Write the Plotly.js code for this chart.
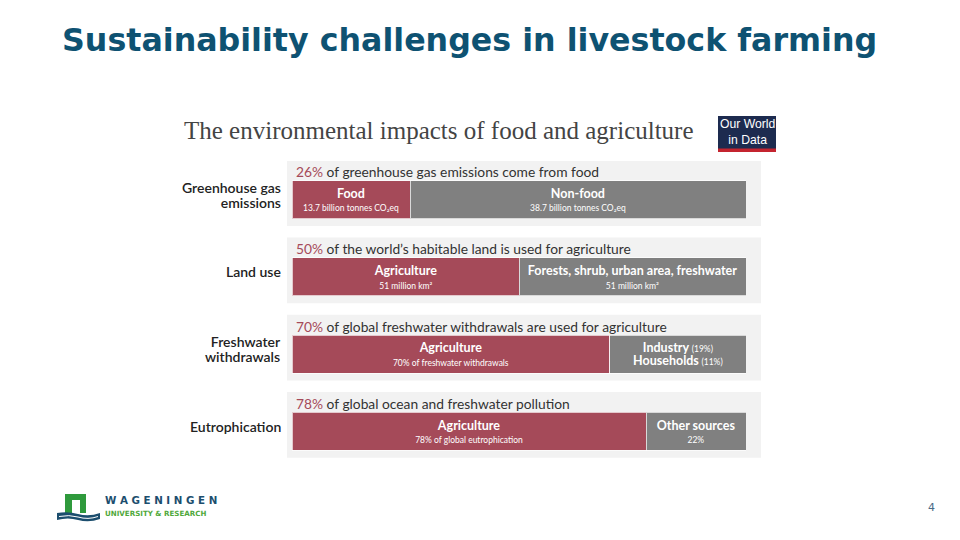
<!DOCTYPE html>
<html>
<head>
<meta charset="utf-8">
<script src="https://cdn.plot.ly/plotly-3.0.1.min.js"></script>
<style>html,body{margin:0;padding:0;background:#fff;}#chart{width:960px;height:540px;}</style>
</head>
<body>
<div id="chart"></div>
<script>
// ---- data ----
const categories = ["Greenhouse gas<br>emissions", "Land use", "Freshwater<br>withdrawals", "Eutrophication"];
const agriShare = [26, 50, 70, 78];
const otherShare = [74, 50, 30, 22];
const agriLabels = ["Food", "Agriculture", "Agriculture", "Agriculture"];
const agriDetails = ["13.7 billion tonnes CO₂eq", "51 million km²", "70% of freshwater withdrawals", "78% of global eutrophication"];
const otherLabels = ["Non-food", "Forests, shrub, urban area, freshwater", "Industry", "Other sources"];
const otherDetails = ["38.7 billion tonnes CO₂eq", "51 million km²", "(19%)", "22%"];
const otherLabels2 = ["", "", "Households", ""];
const otherDetails2 = ["", "", "(11%)", ""];
const headlinePct = ["26%", "50%", "70%", "78%"];
const headlineText = [" of greenhouse gas emissions come from food", " of the world’s habitable land is used for agriculture", " of global freshwater withdrawals are used for agriculture", " of global ocean and freshwater pollution"];

// ---- styles ----
const RED = "#a54a59";
const GRAY = "#808080";
const PANEL = "#f2f2f2";
const L = 292, R = 214, T = 161, B = 70;
const W = 960 - L - R, H = 540 - T - B;
const px2x = p => (p - L) / W;
const py2y = p => (540 - B - p) / H;
const FONT = "Lato, 'Open Sans', sans-serif";

const yIdx = categories.map((c, i) => i);

function agriText(i) {
  return "<span style='font-size:12.5px;font-weight:bold'>" + agriLabels[i] + "</span><br><span style='font-size:8.5px'>" + agriDetails[i] + "</span>";
}
function otherText(i) {
  if (otherLabels2[i]) {
    return "<span style='font-size:12.5px;font-weight:bold'>" + otherLabels[i] + "</span> <span style='font-size:8.5px'>" + otherDetails[i] + "</span><br>" +
           "<span style='font-size:12.5px;font-weight:bold'>" + otherLabels2[i] + "</span> <span style='font-size:8.5px'>" + otherDetails2[i] + "</span>";
  }
  return "<span style='font-size:12.5px;font-weight:bold'>" + otherLabels[i] + "</span><br><span style='font-size:8.5px'>" + otherDetails[i] + "</span>";
}

const traces = [
  {
    type: "bar", orientation: "h", y: yIdx, x: agriShare, width: 0.49,
    marker: {color: RED, line: {color: "rgba(255,255,255,0.7)", width: 1}},
    text: yIdx.map(agriText), textposition: "inside", insidetextanchor: "middle",
    textangle: 0, constraintext: "none",
    textfont: {family: FONT, size: 10.3, color: "#ffffff"},
    hoverinfo: "none"
  },
  {
    type: "bar", orientation: "h", y: yIdx, x: otherShare, width: 0.49,
    marker: {color: GRAY, line: {color: "rgba(255,255,255,0.7)", width: 1}},
    text: yIdx.map(otherText), textposition: "inside", insidetextanchor: "middle",
    textangle: 0, constraintext: "none",
    textfont: {family: FONT, size: 10.3, color: "#ffffff"},
    hoverinfo: "none"
  }
];

const shapes = [];
const annotations = [];
yIdx.forEach(i => {
  shapes.push({type: "rect", layer: "below", xref: "paper", yref: "y",
    x0: px2x(287), x1: px2x(761), y0: i - 0.51, y1: i + 0.34,
    fillcolor: PANEL, line: {width: 0}});
  annotations.push({xref: "paper", yref: "y", x: px2x(294), y: i, yshift: 28,
    xanchor: "left", yanchor: "middle", showarrow: false,
    text: "<span style='color:" + RED + "'>" + headlinePct[i] + "</span>" + headlineText[i],
    font: {family: FONT, size: 13.8, color: "#333333"}});
  // row label
  annotations.push({xref: "paper", yref: "y", x: px2x(283), y: i, yshift: 5,
    xanchor: "right", yanchor: "middle", align: "right", showarrow: false,
    text: "<span style='font-size:14px'>" + categories[i].split("<br>").join("</span><br><span style='font-size:14px'>") + "</span>",
    font: {family: FONT, size: 11.6, color: "#222222", weight: 600}});
});

// chart title
annotations.push({xref: "paper", yref: "paper", x: px2x(182), y: py2y(130), xanchor: "left", yanchor: "middle",
  showarrow: false, text: "The environmental impacts of food and agriculture",
  font: {family: "'Liberation Serif', 'DejaVu Serif', serif", size: 25, color: "#444444"}});

// OWID logo
shapes.push({type: "rect", xref: "paper", yref: "paper", x0: px2x(718), x1: px2x(776), y0: py2y(152), y1: py2y(116),
  fillcolor: "#1d2b4f", line: {width: 0}});
shapes.push({type: "rect", xref: "paper", yref: "paper", x0: px2x(718), x1: px2x(776), y0: py2y(152), y1: py2y(148.5),
  fillcolor: "#c4242f", line: {width: 0}});
annotations.push({xref: "paper", yref: "paper", x: px2x(747), y: py2y(132), xanchor: "center", yanchor: "middle",
  showarrow: false, text: "Our World<br>in Data",
  font: {family: "'Liberation Sans', Arial, sans-serif", size: 12.2, color: "#ffffff"}});

// Wageningen logo
shapes.push({type: "rect", xref: "paper", yref: "paper", x0: px2x(65), x1: px2x(86), y0: py2y(513), y1: py2y(494),
  fillcolor: "#2f9a3c", line: {width: 0}});
shapes.push({type: "rect", xref: "paper", yref: "paper", x0: px2x(72), x1: px2x(80), y0: py2y(513), y1: py2y(500),
  fillcolor: "#ffffff", line: {width: 0}});
shapes.push({type: "path", xref: "paper", yref: "paper",
  path: "M " + px2x(57) + " " + py2y(513) + " Q " + px2x(68) + " " + py2y(511) + " " + px2x(78) + " " + py2y(514) +
        " Q " + px2x(89) + " " + py2y(517) + " " + px2x(100) + " " + py2y(513) +
        " L " + px2x(100) + " " + py2y(519) + " Q " + px2x(89) + " " + py2y(523) + " " + px2x(78) + " " + py2y(520) +
        " Q " + px2x(68) + " " + py2y(517) + " " + px2x(57) + " " + py2y(520) + " Z",
  fillcolor: "#1c4e6e", line: {width: 0}});
shapes.push({type: "path", xref: "paper", yref: "paper",
  path: "M " + px2x(59) + " " + py2y(516.5) + " Q " + px2x(69) + " " + py2y(514.5) + " " + px2x(78) + " " + py2y(517) +
        " Q " + px2x(88) + " " + py2y(520) + " " + px2x(98) + " " + py2y(516.5),
  line: {color: "#ffffff", width: 1}});
annotations.push({xref: "paper", yref: "paper", x: px2x(103), y: py2y(500), xanchor: "left", yanchor: "middle",
  showarrow: false, text: "W A G E N I N G E N",
  font: {family: "'DejaVu Sans', sans-serif", size: 10.3, color: "#1c4e6e", weight: "bold"}});
annotations.push({xref: "paper", yref: "paper", x: px2x(103), y: py2y(513.5), xanchor: "left", yanchor: "middle",
  showarrow: false, text: "UNIVERSITY &amp; RESEARCH",
  font: {family: "'DejaVu Sans', sans-serif", size: 7.1, color: "#4fa83a", weight: "bold"}});

// page number
annotations.push({xref: "paper", yref: "paper", x: px2x(931), y: py2y(507), xanchor: "center", yanchor: "middle",
  showarrow: false, text: "4", font: {family: "'DejaVu Sans', sans-serif", size: 11, color: "#4b6a86"}});

const layout = {
  width: 960, height: 540,
  margin: {l: L, r: R, t: T, b: B, pad: 0},
  paper_bgcolor: "#ffffff", plot_bgcolor: "rgba(0,0,0,0)",
  barmode: "stack", showlegend: false,
  title: {text: "Sustainability challenges in livestock farming", xref: "container", yref: "container",
    x: 62 / 960, xanchor: "left", y: 1 - 40 / 540, yanchor: "middle",
    font: {family: "'DejaVu Sans', Verdana, sans-serif", size: 31.7, color: "#0e5272", weight: "bold"}},
  xaxis: {range: [0, 100], visible: false, fixedrange: true},
  yaxis: {range: [3.5, -0.5], tickvals: yIdx, showticklabels: false, showgrid: false, zeroline: false,
    showline: false, ticks: "", fixedrange: true},
  shapes: shapes,
  annotations: annotations
};

Plotly.newPlot("chart", traces, layout, {displayModeBar: false, staticPlot: true});
</script>
</body>
</html>
